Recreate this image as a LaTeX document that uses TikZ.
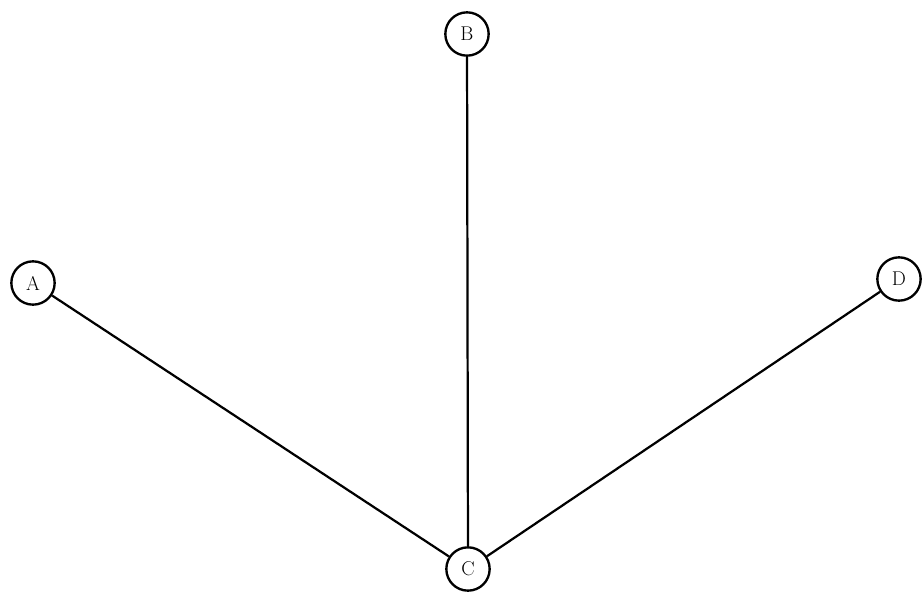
\documentclass[tikz,border=0pt]{standalone}
\usepackage{tikz}
\usetikzlibrary{positioning}

\begin{document}
\begin{tikzpicture}[
  x=0.03cm, y=-0.03cm,
  vtx/.style={
    circle, draw=black, line width=2pt, fill=white,
    font=\fontsize{17}{20}\selectfont, inner sep=0pt, minimum size=1.3cm
  },
  edg/.style={line width=1.9pt}
]

% Rahmen
\useasboundingbox (0,0) rectangle (922,595);

% Knoten
\node[vtx] (B) at (467,  34) {B};
\node[vtx] (A) at ( 33, 283) {A};
\node[vtx] (D) at (899, 279) {D};
\node[vtx] (C) at (468, 569) {C};

% Kanten
\draw[edg] (A) -- (C);
\draw[edg] (B) -- (C);
\draw[edg] (D) -- (C);

\end{tikzpicture}
\end{document}
